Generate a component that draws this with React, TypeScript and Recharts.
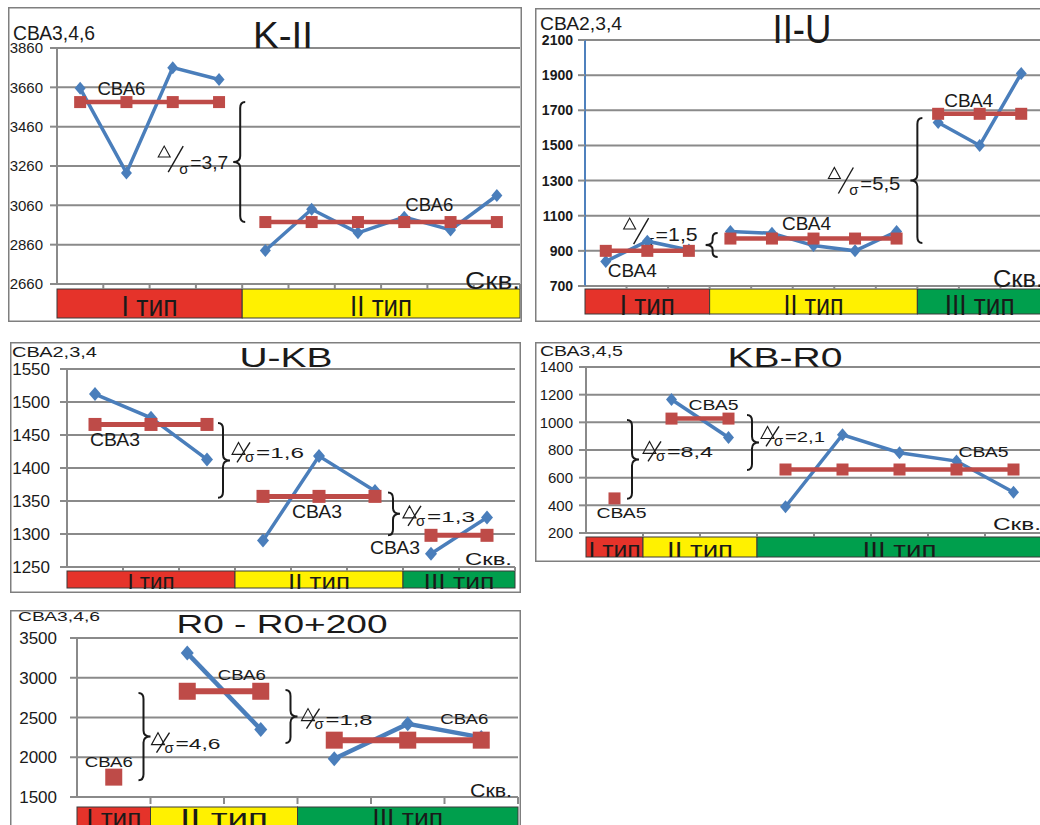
import React from 'react';
import { ComposedChart, Line, XAxis, YAxis, CartesianGrid, ReferenceArea, ReferenceDot } from 'recharts';

const FONT = '"Liberation Sans", Arial, Helvetica, sans-serif';
const INK = '#1a1a1a';
const GRID = '#8a8a8a';
const BLUE = '#4a7ebb';
const RED = '#be4b48';
const TYPE_COLORS = ['#e5332a', '#fff100', '#009f4d'];

// K-II
const kiiTypes = ['I тип', 'II тип'];
const kiiSizes = [4, 6];
const kiiValues = [3655, 3225, 3760, 3700, 2830, 3040, 2920, 3000, 2935, 3110];
const kiiMeans = [3585, 2975];
const kiiTicks = [2660, 2860, 3060, 3260, 3460, 3660, 3860];

// II-U
const iiuTypes = ['I тип', 'II тип', 'III тип'];
const iiuSizes = [3, 5, 3];
const iiuValues = [840, 955, 905, 1010, 1000, 930, 900, 1010, 1630, 1500, 1910];
const iiuMeans = [900, 970, 1680];
const iiuTicks = [700, 900, 1100, 1300, 1500, 1700, 1900, 2100];

// U-KB
const ukbTypes = ['I тип', 'II тип', 'III тип'];
const ukbSizes = [3, 3, 2];
const ukbValues = [1512, 1476, 1413, 1290, 1418, 1365, 1270, 1325];
const ukbMeans = [1466, 1357, 1298];
const ukbTicks = [1250, 1300, 1350, 1400, 1450, 1500, 1550];

// KB-R0
const kbrTypes = ['I тип', 'II тип', 'III тип'];
const kbrSizes = [1, 2, 5];
const kbrValues = [null, 1165, 890, 390, 910, 780, 720, 495];
const kbrMeans = [450, 1027, 659];
const kbrTicks = [200, 400, 600, 800, 1000, 1200, 1400];

// R0 - R0+200
const r0Types = ['I тип', 'II тип', 'III тип'];
const r0Sizes = [1, 2, 3];
const r0Values = [null, 3310, 2350, 1980, 2420, 2250];
const r0Means = [1750, 2830, 2215];
const r0Ticks = [1500, 2000, 2500, 3000, 3500];

function buildRows(sizes: number[], values: (number | null)[], means: number[]) {
  const rows: any[] = [];
  let i = 0;
  sizes.forEach((n, g) => {
    for (let k = 0; k < n; k++, i++) {
      const row: any = { well: String(i + 1) };
      row['v' + g] = values[i];
      row['m' + g] = means[g];
      rows.push(row);
    }
  });
  return rows;
}

function Txt({ x, y, size, w, anchor = 'start', weight, children }: any) {
  const sx = anchor === 'middle' ? x - w / 2 : anchor === 'end' ? x - w : x;
  return (
    <text x={sx} y={y} fontSize={size} fontFamily={FONT} fill={INK} fontWeight={weight}
      textLength={w} lengthAdjust="spacingAndGlyphs">{children}</text>
  );
}

// Δ/σ=x,y
function Ratio({ x, b, text, w, big }: any) {
  const s = big
    ? { tw: 12, top: 23, bot: 12, sl: [25, -23, 10, 3], sig: [21, 5, 15], vx: 32, vs: 19 }
    : { tw: 13, top: 16, bot: 4, sl: [18, -16, 5, 4], sig: [13, 4, 15], vx: 24, vs: 15 };
  return (
    <g>
      <polygon points={`${x},${b - s.bot} ${x + s.tw / 2},${b - s.top} ${x + s.tw},${b - s.bot}`}
        fill="none" stroke={INK} strokeWidth={1.1} />
      <line x1={x + s.sl[0]} y1={b + s.sl[1]} x2={x + s.sl[2]} y2={b + s.sl[3]} stroke={INK} strokeWidth={1.4} />
      <text x={x + s.sig[0]} y={b + s.sig[1]} fontSize={s.sig[2]} fontFamily={FONT} fill={INK}>σ</text>
      <Txt x={x + s.vx} y={b} size={s.vs} w={w}>{'=' + text}</Txt>
    </g>
  );
}

const panels: any[] = [
  {
    types: kiiTypes, sizes: kiiSizes, values: kiiValues, means: kiiMeans, ticks: kiiTicks,
    box: [8, 7, 514, 315], plot: [57, 48, 520, 284], band: [289, 318], bandBase: 316, bandFont: 30, bandW: [56, 62],
    title: { text: 'K-II', x: 283, y: 48, size: 36, w: 60 },
    yLabel: { text: 'СВА3,4,6', x: 13, y: 40, size: 20, w: 82 },
    xLabel: { x: 465, y: 289, size: 24, w: 55 },
    axisColor: GRID, tickFont: 15, tickBold: false, tickMargin: 7,
    blueW: 3.5, redW: 4.5, dia: [5.5, 6.5], sq: 12,
    noteText: 'СВА6', noteFont: 18, noteW: 48,
    notes: [{ well: '2', value: 3621, dx: -5 }, { well: '8', value: 3031, dx: 25 }],
    braceOpen: true, bigRatio: true,
    braces: [{ well: '5', from: 3585, to: 2975, ratio: '3,7', dx: -2, dy: 7, gap: 5, w: 38 }],
  },
  {
    types: iiuTypes, sizes: iiuSizes, values: iiuValues, means: iiuMeans, ticks: iiuTicks,
    box: [535, 8, 513, 314], plot: [585, 40, 1042, 286], band: [289, 314], bandBase: 315, bandFont: 30, bandW: [55, 60, 70],
    title: { text: 'II-U', x: 802, y: 43, size: 40, w: 59 },
    yLabel: { text: 'СВА2,3,4', x: 540, y: 30, size: 19, w: 82 },
    xLabel: { x: 993, y: 287, size: 23, w: 50 },
    axisColor: '#4f81bd', tickFont: 14, tickBold: true, tickMargin: 5,
    blueW: 3.5, redW: 4.5, dia: [5.5, 6.5], sq: 12,
    noteText: 'СВА4', noteFont: 19, noteW: 49,
    notes: [{ well: '2', value: 751, dx: -15 }, { well: '6', value: 1019, dx: -7 }, { well: '10', value: 1719, dx: -11 }],
    braceOpen: true, bigRatio: true,
    braces: [
      { well: '4', from: 1001, to: 865, ratio: '1,5', dx: 3, dy: -4, gap: 8, w: 42 },
      { well: '9', from: 1656, to: 945, ratio: '5,5', dx: 0, dy: 10, gap: 10, w: 40 },
    ],
  },
  {
    types: ukbTypes, sizes: ukbSizes, values: ukbValues, means: ukbMeans, ticks: ukbTicks,
    box: [10, 342, 511, 251], plot: [67, 369, 515, 567], band: [571, 588], bandBase: 589, bandFont: 22, bandW: [47, 62, 71],
    title: { text: 'U-KB', x: 286, y: 367, size: 27, w: 93 },
    yLabel: { text: 'СВА2,3,4', x: 12, y: 357, size: 14, w: 85 },
    xLabel: { x: 465, y: 565, size: 17, w: 47 },
    axisColor: GRID, tickFont: 17, tickBold: false, tickMargin: 10,
    blueW: 3.5, redW: 5, dia: [6, 7], sq: 13,
    noteText: 'СВА3', noteFont: 18, noteW: 50,
    notes: [{ well: '1', value: 1434, dx: 20 }, { well: '5', value: 1325, dx: -2 }, { well: '7', value: 1270, dx: -36 }],
    braceOpen: false, bigRatio: false,
    braces: [
      { well: '4', from: 1468, to: 1355, ratio: '1,6', dx: -12, dy: -2, gap: 2, w: 48 },
      { well: '7', from: 1363, to: 1298, ratio: '1,3', dx: -10, dy: 8, gap: 3, w: 48 },
    ],
  },
  {
    types: kbrTypes, sizes: kbrSizes, values: kbrValues, means: kbrMeans, ticks: kbrTicks,
    box: [535, 342, 513, 220], plot: [586, 367, 1042, 533], band: [537, 557], bandBase: 557, bandFont: 22, bandW: [52, 66, 74],
    title: { text: 'KB-R0', x: 785, y: 367, size: 27, w: 115 },
    yLabel: { text: 'СВА3,4,5', x: 540, y: 356, size: 14, w: 83 },
    xLabel: { x: 993, y: 530, size: 17, w: 48 },
    axisColor: GRID, tickFont: 15, tickBold: false, tickMargin: 6,
    blueW: 3.5, redW: 4.5, dia: [5.5, 6.5], sq: 12,
    noteText: 'СВА5', noteFont: 14, noteW: 50,
    notes: [{ well: '1', value: 310, dx: 7 }, { well: '3', value: 1090, dx: -15 }, { well: '7', value: 750, dx: 27 }],
    braceOpen: false, bigRatio: false,
    braces: [
      { well: '2', from: 1017, to: 447, ratio: '8,4', dx: -11, dy: -2, gap: 4, w: 46 },
      { well: '4', from: 1053, to: 656, ratio: '2,1', dx: -5, dy: 0, gap: 2, w: 40 },
    ],
  },
  {
    types: r0Types, sizes: r0Sizes, values: r0Values, means: r0Means, ticks: r0Ticks,
    box: [10, 610, 511, 230], plot: [77, 638, 518, 797], band: [807, 829], bandBase: 826, bandFont: 24, bandW: [55, 88, 71],
    title: { text: 'R0 - R0+200', x: 282, y: 633, size: 25, w: 211 },
    yLabel: { text: 'СВА3,4,6', x: 18, y: 621, size: 13, w: 82 },
    xLabel: { x: 470, y: 797, size: 19, w: 42 },
    axisColor: GRID, tickFont: 17, tickBold: false, tickMargin: 13,
    blueW: 4.5, redW: 6, dia: [6.5, 7.5], sq: 17,
    noteText: 'СВА6', noteFont: 14, noteW: 48,
    notes: [{ well: '1', value: 1875, dx: -5 }, { well: '3', value: 2971, dx: -19 }, { well: '6', value: 2417, dx: -17 }],
    braceOpen: false, bigRatio: false,
    braces: [
      { well: '2', from: 2807, to: 1712, ratio: '4,6', dx: -7, dy: 12, gap: 1, w: 45 },
      { well: '4', from: 2845, to: 2178, ratio: '1,8', dx: -7, dy: 8, gap: 4, w: 47 },
    ],
  },
];

function Panel({ c }: { c: any }) {
  const [bl, bt, bw, bh] = c.box;
  const [pl, pt, pr, pb] = c.plot;
  const rows = buildRows(c.sizes, c.values, c.means);
  const groups = c.sizes.map((n: number, g: number) => {
    const start = c.sizes.slice(0, g).reduce((a: number, b: number) => a + b, 0);
    return { g, first: rows[start].well, last: rows[start + n - 1].well };
  });
  const gap = c.band[0] - pb;
  const bandH = c.band[1] - c.band[0];
  const lx = (x: number) => x - bl;
  const ly = (y: number) => y - bt;
  const open = c.braceOpen;
  const prefix = c.bigRatio ? 32 : 24;

  return (
    <div style={{ position: 'absolute', left: bl, top: bt, width: bw, height: bh }}>
      <ComposedChart width={bw} height={bh} data={rows}
        margin={{ top: pt - bt, right: bl + bw - pr, bottom: bt + bh - pb, left: 0 }}>
        <CartesianGrid vertical={false} stroke={GRID} strokeWidth={2} />
        <XAxis dataKey="well" type="category" scale="band" hide />
        <YAxis type="number" width={pl - bl} domain={[c.ticks[0], c.ticks[c.ticks.length - 1]]}
          ticks={c.ticks} interval={0} axisLine={{ stroke: c.axisColor, strokeWidth: 2 }}
          tickLine={{ stroke: GRID, strokeWidth: 2 }} tickSize={7} tickMargin={c.tickMargin}
          tick={{ fontSize: c.tickFont, fill: INK, fontFamily: FONT, fontWeight: c.tickBold ? 700 : 400 }} />

        {groups.map(({ g, first, last }: any) => (
          <ReferenceArea key={'band' + g} x1={first} x2={last} ifOverflow="visible"
            shape={(p: any) => {
              const top = p.y + p.height + gap;
              return (
                <g>
                  <rect x={p.x} y={top} width={p.width} height={bandH} fill={TYPE_COLORS[g]} stroke="#3a3a3a" strokeWidth={1} />
                  <Txt x={p.x + p.width / 2} y={ly(c.bandBase)} size={c.bandFont} w={c.bandW[g]} anchor="middle">{c.types[g]}</Txt>
                </g>
              );
            }} />
        ))}

        {rows.map((r: any, i: number) => (
          <ReferenceArea key={'tk' + i} x1={r.well} x2={r.well} ifOverflow="visible"
            shape={(p: any) => {
              const y0 = p.y + p.height;
              const len = Math.min(gap, 7);
              const xs: number[] = [];
              if (i > 0) xs.push(p.x);
              if (i === rows.length - 1) xs.push(p.x + p.width);
              return (
                <g>
                  {xs.map((x, k) => <line key={k} x1={x} y1={y0} x2={x} y2={y0 + len} stroke={GRID} strokeWidth={2} />)}
                </g>
              );
            }} />
        ))}

        {groups.map(({ g }: any) => (
          <Line key={'v' + g} dataKey={'v' + g} type="linear" stroke={BLUE} strokeWidth={c.blueW}
            isAnimationActive={false} activeDot={false} legendType="none"
            dot={(p: any) => {
              if (p.cy == null || p.value == null) return <g key={'vd' + p.index} />;
              const [w, h] = c.dia;
              return <polygon key={'vd' + p.index} fill={BLUE}
                points={`${p.cx},${p.cy - h} ${p.cx + w},${p.cy} ${p.cx},${p.cy + h} ${p.cx - w},${p.cy}`} />;
            }} />
        ))}
        {groups.map(({ g }: any) => (
          <Line key={'m' + g} dataKey={'m' + g} type="linear" stroke={RED} strokeWidth={c.redW}
            isAnimationActive={false} activeDot={false} legendType="none"
            dot={(p: any) => {
              if (p.cy == null || p.value == null) return <g key={'md' + p.index} />;
              return <rect key={'md' + p.index} x={p.cx - c.sq / 2} y={p.cy - c.sq / 2} width={c.sq} height={c.sq} fill={RED} />;
            }} />
        ))}

        {c.notes.map((n: any, i: number) => (
          <ReferenceDot key={'n' + i} x={n.well} y={n.value} r={0} ifOverflow="visible"
            shape={(p: any) => (
              <Txt x={p.cx + n.dx} y={p.cy} size={c.noteFont} w={c.noteW} anchor="middle">{c.noteText}</Txt>
            )} />
        ))}

        {c.braces.map((br: any, i: number) => (
          <ReferenceArea key={'br' + i} x1={br.well} x2={br.well} y1={br.from} y2={br.to} ifOverflow="visible"
            shape={(p: any) => {
              const x0 = p.x + br.dx;
              const y1 = p.y;
              const y2 = p.y + p.height;
              const ym = (y1 + y2) / 2;
              const dir = open ? -1 : 1;
              const tipX = x0 + dir * 7;
              const cu = Math.min(6, p.height / 5);
              const d = `M${x0 - dir * 5},${y1} Q${x0},${y1} ${x0},${y1 + cu} L${x0},${ym - cu} Q${x0},${ym} ${tipX},${ym} ` +
                `Q${x0},${ym} ${x0},${ym + cu} L${x0},${y2 - cu} Q${x0},${y2} ${x0 - dir * 5},${y2}`;
              const blockW = prefix + br.w;
              const bx = open ? tipX - br.gap - blockW : tipX + br.gap;
              return (
                <g>
                  <path d={d} fill="none" stroke={INK} strokeWidth={2} />
                  <Ratio x={bx} b={ym + br.dy} text={br.ratio} w={br.w} big={c.bigRatio} />
                </g>
              );
            }} />
        ))}
      </ComposedChart>

      <svg width={bw} height={bh} style={{ position: 'absolute', left: 0, top: 0, pointerEvents: 'none' }}>
        <rect x={0.75} y={0.75} width={bw - 1.5} height={bh - 1.5} fill="none" stroke="#7f7f7f" strokeWidth={1.5} />
        <Txt x={lx(c.title.x)} y={ly(c.title.y)} size={c.title.size} w={c.title.w} anchor="middle">{c.title.text}</Txt>
        <Txt x={lx(c.yLabel.x)} y={ly(c.yLabel.y)} size={c.yLabel.size} w={c.yLabel.w}>{c.yLabel.text}</Txt>
        <Txt x={lx(c.xLabel.x)} y={ly(c.xLabel.y)} size={c.xLabel.size} w={c.xLabel.w}>Скв.</Txt>
      </svg>
    </div>
  );
}

export default function App() {
  return (
    <div style={{ position: 'fixed', left: 0, top: 0, width: 1040, height: 825, background: '#fff', overflow: 'hidden' }}>
      {panels.map((c, i) => <Panel key={i} c={c} />)}
    </div>
  );
}
